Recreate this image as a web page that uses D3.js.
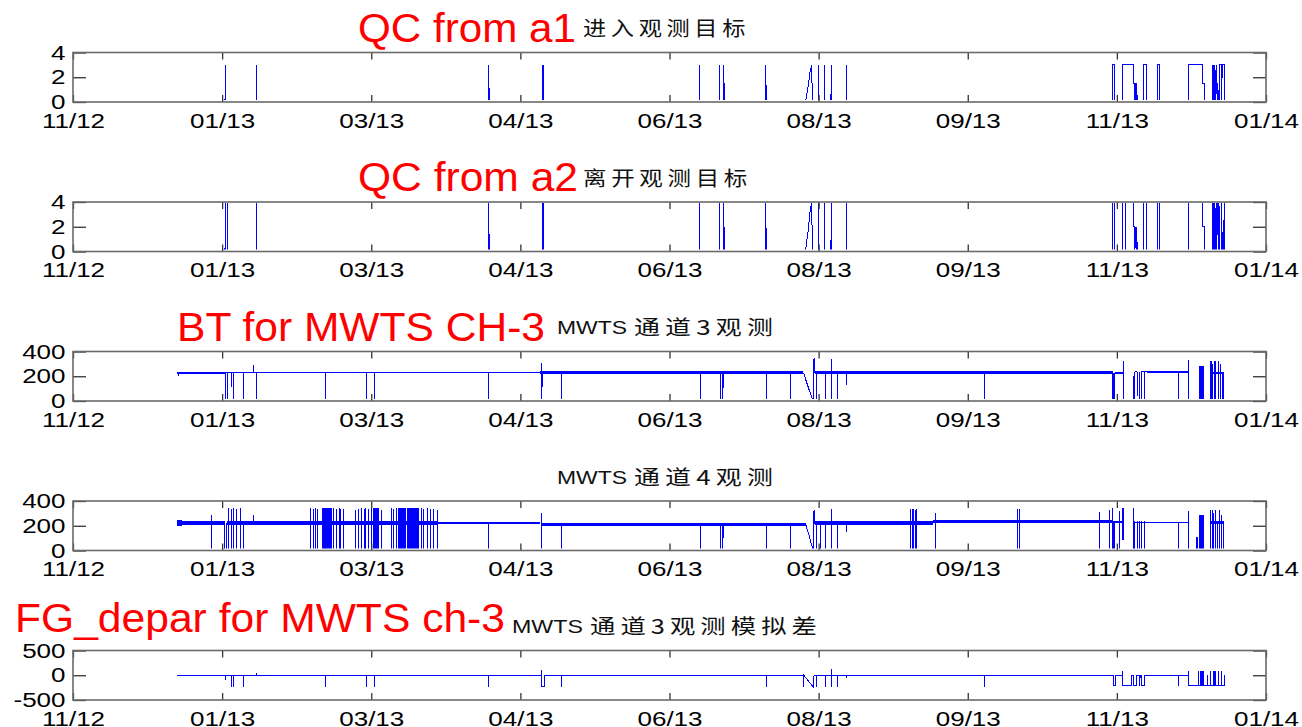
<!DOCTYPE html>
<html>
<head>
<meta charset="utf-8">
<script src="https://cdn.jsdelivr.net/npm/d3@7"></script>
<style>
  body { margin: 0; background: #fff; }
  svg { display: block; }
</style>
</head>
<body>
<svg id="chart" width="1302" height="727"></svg>
<script>
// Time axis: days since 2012-11-19, one tick every 52 days
const xTickDays = [0, 52, 104, 156, 208, 260, 312, 364, 416];
const xTickLabels = ["11/12", "01/13", "03/13", "04/13", "06/13", "08/13", "09/13", "11/13", "01/14"];

const qcTicks = [0, 2, 4];
const btTicks = [0, 200, 400];
const fgTicks = [-500, 0, 500];

// QC flag, entering the observation target: [day, flag]
const qcA1 = [
  [36.3,0],
  [53.0,0],[53.1,3],[53.2,0],
  [63.9,0],[64.0,3],[64.1,0],
  [144.9,0],[145.0,3],[145.1,0],
  [163.6,0],[163.7,3],[163.8,0],[164.0,3],[164.1,0],
  [218.4,0],[218.5,3],[218.6,0],
  [225.4,0],[225.5,3],[225.6,0],
  [226.7,0],[226.8,3],[226.9,0],[227.0,1.5],[227.1,0],[227.2,1.5],[227.3,0],
  [241.5,0],[241.6,3],[241.7,0],
  [255.4,0],[256.3,1.2],[257.0,2.4],[257.6,3],[257.8,0],
  [259.9,0],[260.0,3],[260.1,0],
  [262.0,0],[262.1,3],[262.2,0],
  [264.3,0],[264.4,3],[264.5,0],
  [269.7,0],[269.8,3],[269.9,0],
  [362.4,0],[362.4,3],[363.0,3],[363.0,0],
  [366.0,0],[366.0,3],[369.7,3],[369.8,1.5],[370.3,1.5],[370.3,0],[370.5,1.5],[370.7,0],[370.9,1.5],[371.1,0],
  [373.2,0],[373.2,3],[374.4,3],[374.4,0],
  [378.1,0],[378.1,3],[378.7,3],[378.7,0],
  [389.0,0],[389.0,3],[393.7,3],[393.7,1.5],[394.5,1.5],[394.5,0],
  [397.4,0],[397.4,3],[397.6,0],[397.8,3],[398.0,0],[398.2,3],[398.4,0],[398.6,3],[398.8,1.5],[399.0,0],[399.2,1.5],[399.4,0],
  [399.7,0],[399.7,3],[400.6,3],[400.6,0],[400.7,3],[401.6,3],[401.6,0]
];

// QC flag, leaving the observation target: [day, flag]
const qcA2 = [
  [36.3,0],
  [53.0,0],[53.1,4],[53.2,0],[53.8,0],[53.9,4],[54.0,0],
  [63.9,0],[64.0,4],[64.1,0],
  [144.9,0],[145.0,4],[145.1,0],
  [163.6,0],[163.7,4],[163.8,0],[164.0,4],[164.1,0],
  [218.4,0],[218.5,4],[218.6,0],
  [225.4,0],[225.5,4],[225.6,0],
  [226.7,0],[226.8,4],[226.9,0],[227.0,2],[227.1,0],[227.2,2],[227.3,0],
  [241.5,0],[241.6,4],[241.7,0],
  [255.4,0],[256.3,1.6],[257.0,3.2],[257.6,4],[257.8,0],
  [259.9,0],[260.0,4],[260.1,0],
  [262.0,0],[262.1,4],[262.2,0],
  [264.3,0],[264.4,4],[264.5,0],
  [269.7,0],[269.8,4],[269.9,0],
  [362.4,0],[362.4,4],[363.0,4],[363.0,0],
  [366.0,0],[366.0,4],[366.9,4],[366.9,0],[367.0,0],[367.0,4],[369.7,4],[369.8,2],[370.3,2],[370.3,0],[370.5,2],[370.7,0],[370.9,2],[371.1,0],
  [373.2,0],[373.2,4],[374.4,4],[374.4,0],
  [378.1,0],[378.1,4],[378.7,4],[378.7,0],
  [389.0,0],[389.0,4],[393.7,4],[393.7,2],[394.5,2],[394.5,0],
  [397.4,0],[397.4,4],[397.6,0],[397.8,4],[398.0,0],[398.2,4],[398.4,0],[398.6,4],[398.8,0],[399.0,4],[399.2,2],[399.4,0],[399.6,4],[399.8,0],
  [400.5,0],[400.6,4],[400.7,0],[401.3,0],[401.4,4],[401.5,0]
];

// MWTS channel 3 brightness temperature
// band: [startDay, endDay, low, high]; spikes: [day, low, high]; bursts: [startDay, endDay, low, high]
const bt3Band = [
  [36.3, 53.0, 222, 238],
  [53.0, 163.0, 224, 237],
  [163.0, 254.7, 218, 244],
  [258.6, 362.5, 220, 242],
  [363.5, 366.3, 222, 234],
  [374.4, 389.0, 230, 242],
  [396.5, 401.4, 222, 236]
];
const bt3Spikes = [
  [36.8,205,230],
  [53.2,0,230],[53.9,0,230],[55.4,110,230],[56.0,0,230],[59.3,0,230],[62.9,230,290],[64.1,0,230],
  [88.2,0,230],[102.4,0,230],[105.1,0,230],[145.0,0,230],
  [163.3,0,310],[163.6,115,230],[170.4,0,230],
  [218.9,0,230],[225.8,0,230],[226.4,0,230],[227.0,106,230],[241.9,0,230],[250.3,0,230],
  [259.2,0,230],[262.3,0,230],[264.6,0,340],[266.7,0,230],[269.6,132,230],
  [317.9,0,230],
  [362.5,0,230],[366.3,0,320],
  [369.7,0,200],[370.3,0,235],[371.1,40,235],[371.8,0,235],[372.7,0,240],[373.7,0,240],
  [385.4,0,240],[389.0,0,333],
  [396.5,0,320],[397.0,0,320],[397.5,0,300],[399.4,0,320],[400.0,0,300],[400.7,0,230],[401.2,0,230]
];
const bt3Bursts = [
  [362.7, 363.5, 0, 230],
  [392.7, 394.3, 0, 285],
  [397.7, 398.6, 0, 320]
];
const bt3Paths = [
  [[254.7,230],[256.4,110],[258.1,0],[258.4,348],[258.6,230]],
  [[370.3,235],[371.1,235]],
  [[372.7,240],[374.4,240]]
];

// MWTS channel 4 brightness temperature
const bt4Band = [
  [36.3, 38.0, 200, 246],
  [38.0, 52.9, 206, 240],
  [53.6, 127.2, 208, 240],
  [127.2, 163.0, 214, 232],
  [163.5, 200.0, 200, 226],
  [200.0, 255.5, 194, 222],
  [258.6, 300.0, 210, 238],
  [300.0, 362.5, 220, 246],
  [363.5, 366.5, 224, 240],
  [370.3, 374.4, 222, 234],
  [374.4, 389.0, 222, 232],
  [396.5, 401.4, 215, 240]
];
const bt4Spikes = [
  [48.4,0,285],[52.9,0,225],[53.6,0,225],
  [54.2,0,340],[55.1,0,338],[56.1,0,340],[57.1,0,335],[58.3,0,340],
  [59.3,0,225],[62.9,225,290],
  [82.9,0,340],[83.7,0,338],[84.4,0,340],[85.1,0,335],[87.0,0,342],[87.4,0,340],[87.7,0,345],[88.0,0,340],
  [88.2,0,338],[88.5,0,342],[88.7,0,345],[89.0,0,340],[89.4,0,345],[89.7,0,340],[90.2,0,342],[90.9,0,340],
  [91.9,0,338],[92.8,0,340],[93.4,0,335],[94.3,0,338],
  [98.6,0,330],[99.6,0,335],[100.6,0,340],[101.5,0,335],[102.1,0,340],[102.9,0,338],[104.0,0,340],[107.6,0,330],
  [111.2,0,340],[111.9,0,338],[112.7,0,340],[113.4,0,345],[120.4,0,340],[121.4,0,340],[122.1,0,338],
  [123.5,0,340],[124.7,0,335],[125.7,0,335],[127.2,0,330],
  [145.0,0,225],[163.3,0,300],[170.4,0,215],
  [218.9,0,210],[225.8,0,210],[226.4,0,210],[227.0,99,210],[241.9,0,210],[250.3,0,210],
  [259.2,0,220],[260.6,0,220],[262.3,0,220],[264.6,0,339],[266.7,0,220],[269.6,152,220],
  [292.1,0,339],[292.7,0,335],[293.2,0,339],[293.9,0,330],[294.3,0,339],
  [300.8,0,299],[329.5,0,339],[330.0,0,339],
  [358.1,0,312],[361.6,0,330],[362.5,0,343],[364.8,0,316],[366.0,86,343],[366.3,86,343],
  [369.7,0,343],[370.3,0,235],[371.1,0,235],[372.0,0,235],[372.7,0,235],[373.7,0,235],
  [385.4,0,227],[389.0,0,316],[391.7,0,113],[392.2,0,113],
  [396.5,0,330],[397.2,0,330],[397.8,0,300],[398.4,0,330],[399.1,0,230],[399.8,0,330],[400.5,0,290],[401.1,0,230]
];
const bt4Bursts = [
  [104.7, 106.8, 0, 345],
  [113.6, 116.2, 0, 345],
  [116.6, 120.2, 0, 345],
  [362.7, 363.5, 0, 235],
  [392.7, 394.3, 0, 289]
];
const bt4Paths = [
  [[255.5,210],[256.8,110],[258.1,0],[258.4,330],[258.6,215]]
];

// Channel 3 observation minus background
const fgTrace = [
  [36.3,0],[163.3,0],[163.3,-233],[164.3,-233],[164.3,0],
  [254.7,0],[254.7,-233],[254.8,0],[258.1,-233],[258.4,0],
  [362.7,0],[362.8,-210],[363.6,-210],[363.6,0],[366.0,0],[366.0,87],[366.1,-210],[369.0,-210],[369.1,0],
  [369.7,0],[369.7,-210],[370.9,-210],[371.0,0],[371.8,0],[371.8,-210],[372.0,-210],[372.1,0],
  [372.6,0],[372.6,-210],[373.7,-210],[373.8,0],
  [388.9,0],[388.9,87],[389.0,-210],[392.4,-210],[392.4,87],[392.5,-210],[401.4,-210]
];
const fgSpikes = [
  [53.2,-87,0],[55.4,-233,0],[55.8,-233,0],[59.3,-233,0],[64.1,0,47],[88.2,-233,0],[102.4,-233,0],[105.1,-233,0],[145.0,-233,0],
  [163.3,0,100],[170.4,-233,0],[241.9,-233,0],
  [259.2,-233,0],[262.3,-233,0],[264.6,-233,127],[266.7,-233,0],[269.6,-47,0],[317.9,-233,0],
  [385.4,-210,0],
  [395.7,-210,0],[396.7,-210,87],[397.6,-210,87],[398.2,-210,87],[399.4,-210,87],[400.5,-210,87],[401.4,-210,0]
];
const fgBursts = [
  [393.0, 394.4, -210, 87],
  [397.6, 398.6, -210, 80]
];

// ---- layout ----
const plotLeft = 73, plotRight = 1266, plotH = 49.5;
const panelTops = [52.5, 202, 351.5, 501, 650.5];
const BLUE = "#0000ff";
const LATIN = "'Liberation Sans', Arial, sans-serif";
const CJK = "'Noto Sans CJK SC', 'Noto Sans CJK JP', sans-serif";

const panels = [
  { yDomain: [0, 4], yTicks: qcTicks, trace: qcA1 },
  { yDomain: [0, 4], yTicks: qcTicks, trace: qcA2 },
  { yDomain: [0, 400], yTicks: btTicks, band: bt3Band, spikes: bt3Spikes, bursts: bt3Bursts, paths: bt3Paths },
  { yDomain: [0, 400], yTicks: btTicks, band: bt4Band, spikes: bt4Spikes, bursts: bt4Bursts, paths: bt4Paths },
  { yDomain: [-500, 500], yTicks: fgTicks, trace: fgTrace, spikes: fgSpikes, bursts: fgBursts }
];

const svg = d3.select("#chart");
const x = d3.scaleLinear().domain([0, 416]).range([plotLeft, plotRight]);

panels.forEach((p, i) => {
  const g = svg.append("g").attr("transform", `translate(0,${panelTops[i]})`);
  const y = d3.scaleLinear().domain(p.yDomain).range([plotH, 0]);

  // data are kept strictly inside the frame so a zero line hides under the axis box
  const clipId = "clip" + i;
  g.append("clipPath").attr("id", clipId)
    .append("rect").attr("x", plotLeft).attr("y", 1)
    .attr("width", plotRight - plotLeft).attr("height", plotH - 3);

  const data = g.append("g").attr("clip-path", `url(#${clipId})`).attr("shape-rendering", "crispEdges");

  if (p.band) {
    data.selectAll("rect.band").data(p.band).join("rect").attr("class", "band")
      .attr("x", d => x(d[0])).attr("width", d => Math.max(0.5, x(d[1]) - x(d[0])))
      .attr("y", d => y(d[3])).attr("height", d => Math.max(1, y(d[2]) - y(d[3])))
      .attr("fill", BLUE);
  }
  if (p.bursts) {
    data.selectAll("rect.burst").data(p.bursts).join("rect").attr("class", "burst")
      .attr("x", d => x(d[0])).attr("width", d => x(d[1]) - x(d[0]))
      .attr("y", d => y(d[3])).attr("height", d => y(d[2]) - y(d[3]))
      .attr("fill", BLUE);
  }
  if (p.trace) {
    data.append("path").datum(p.trace)
      .attr("d", d3.line().x(d => x(d[0])).y(d => y(d[1])))
      .attr("fill", "none").attr("stroke", BLUE).attr("stroke-width", 1);
  }
  if (p.paths) {
    data.selectAll("path.seg").data(p.paths).join("path").attr("class", "seg")
      .attr("d", d3.line().x(d => x(d[0])).y(d => y(d[1])))
      .attr("fill", "none").attr("stroke", BLUE).attr("stroke-width", 1);
  }
  if (p.spikes) {
    data.selectAll("line.spike").data(p.spikes).join("line").attr("class", "spike")
      .attr("x1", d => x(d[0])).attr("x2", d => x(d[0]))
      .attr("y1", d => y(d[1])).attr("y2", d => y(d[2]))
      .attr("stroke", BLUE).attr("stroke-width", 1);
  }

  // axes with inward ticks on all four sides
  const xb = g.append("g").attr("transform", `translate(0,${plotH})`)
    .call(d3.axisBottom(x).tickValues(xTickDays).tickFormat((d, k) => xTickLabels[k]).tickSize(-7).tickPadding(11));
  const xt = g.append("g")
    .call(d3.axisTop(x).tickValues(xTickDays).tickFormat("").tickSize(-7));
  const yl = g.append("g").attr("transform", `translate(${plotLeft},0)`)
    .call(d3.axisLeft(y).tickValues(p.yTicks).tickFormat(d => String(d)).tickSize(-13).tickPadding(6));
  const yr = g.append("g").attr("transform", `translate(${plotRight},0)`)
    .call(d3.axisRight(y).tickValues(p.yTicks).tickFormat("").tickSize(-13));

  [xb, xt, yl, yr].forEach(a => {
    a.select(".domain").remove();
    a.selectAll(".tick line").attr("stroke", "#333").attr("stroke-width", 1.3);
    a.selectAll("text")
      .attr("font-family", LATIN).attr("font-size", 21).attr("fill", "#000")
      .attr("transform", "scale(1.24,1)");
  });

  g.append("rect").attr("x", plotLeft).attr("y", 0)
    .attr("width", plotRight - plotLeft).attr("height", plotH)
    .attr("fill", "none").attr("stroke", "#6a6a6a").attr("stroke-width", 1.6);
});

// ---- titles ----
function label(txt, x0, x1, yb, opts) {
  svg.append("text").text(txt)
    .attr("x", x0).attr("y", yb)
    .attr("textLength", x1 - x0).attr("lengthAdjust", "spacingAndGlyphs")
    .attr("letter-spacing", opts.spacing || 0)
    .attr("font-family", opts.family).attr("font-size", opts.size)
    .attr("fill", opts.fill);
}
const red = { family: LATIN, size: 40, fill: "#ff0000" };
const latinBlack = { family: LATIN, size: 18, fill: "#111" };
const cjkBlack = { family: CJK, size: 20, fill: "#111", spacing: 4 };

label("QC from a1", 358, 576, 42, red);
label("进入观测目标", 583, 750, 36, cjkBlack);

label("QC from a2", 358, 578, 191, red);
label("离开观测目标", 583, 752, 186, cjkBlack);

label("BT for MWTS CH-3", 177, 545, 341, red);
label("MWTS", 557, 627, 334, latinBlack);
label("通道3观测", 634, 778, 335, cjkBlack);

label("MWTS", 557, 627, 484, latinBlack);
label("通道4观测", 634, 778, 485, cjkBlack);

label("FG_depar for MWTS ch-3", 15, 505, 632, red);
label("MWTS", 512, 583, 633, latinBlack);
label("通道3观测模拟差", 590, 822, 634, cjkBlack);
</script>
</body>
</html>
